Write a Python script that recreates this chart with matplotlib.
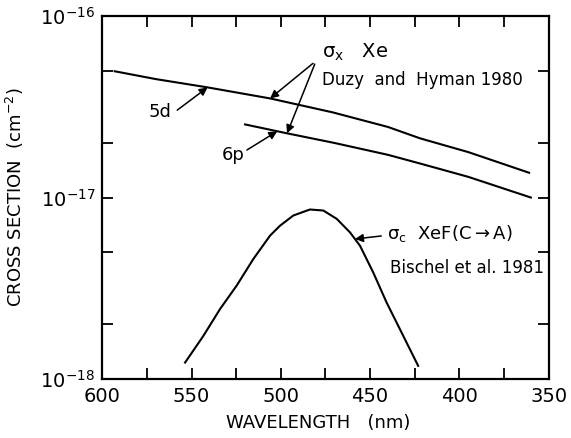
import matplotlib
matplotlib.use("Agg")
import matplotlib.pyplot as plt
import numpy as np
from matplotlib.ticker import FixedLocator, FuncFormatter

# sigma_x Xe 5d (Duzy and Hyman 1980)
wl_5d = [593, 570, 541, 506, 471, 440, 422, 395, 361]
sig_5d = [4.97e-17, 4.5e-17, 4.05e-17, 3.52e-17, 2.95e-17, 2.45e-17, 2.12e-17, 1.78e-17, 1.37e-17]

# sigma_x Xe 6p
wl_6p = [520, 496.5, 470, 440, 422, 395, 360]
sig_6p = [2.53e-17, 2.26e-17, 2.0e-17, 1.72e-17, 1.54e-17, 1.3e-17, 1.0e-17]

# sigma_c XeF(C->A) (Bischel et al. 1981)
wl_c = [553.6, 543.3, 534.0, 524.7, 515.4, 506.0, 500.4, 493.0, 483.7, 476.2, 468.7,
        461.3, 455.7, 448.3, 440.8, 431.5, 423.1]
sig_c = [1.23e-18, 1.73e-18, 2.43e-18, 3.27e-18, 4.58e-18, 6.17e-18, 7.0e-18, 7.96e-18, 8.59e-18,
         8.48e-18, 7.63e-18, 6.43e-18, 5.43e-18, 3.87e-18, 2.64e-18, 1.73e-18, 1.18e-18]

x_major = [600, 550, 500, 450, 400, 350]
x_minor = [575, 525, 475, 425, 375]


def at(wl, sig, w):
    # value of a curve at wavelength w (log interpolation along the curve)
    wl = np.asarray(wl)[::-1]
    ls = np.log10(np.asarray(sig))[::-1]
    return (w, 10 ** np.interp(w, wl, ls))


plt.rcParams['font.family'] = 'DejaVu Sans'
plt.rcParams['mathtext.default'] = 'regular'

fig, ax = plt.subplots(figsize=(5.71, 4.38), dpi=100)
fig.subplots_adjust(left=0.179, right=0.961, top=0.963, bottom=0.135)

ax.plot(wl_5d, sig_5d, color='k', lw=1.5)
ax.plot(wl_6p, sig_6p, color='k', lw=1.5)
ax.plot(wl_c, sig_c, color='k', lw=1.5)

ax.set_yscale('log')
ax.set_xlim(600, 350)
ax.set_ylim(1e-18, 1e-16)

ax.xaxis.set_major_locator(FixedLocator(x_major))
ax.xaxis.set_minor_locator(FixedLocator(x_minor))
ax.yaxis.set_major_locator(FixedLocator([1e-18, 1e-17, 1e-16]))
ax.yaxis.set_minor_locator(FixedLocator([2e-18, 5e-18, 2e-17, 5e-17]))
ax.yaxis.set_major_formatter(FuncFormatter(lambda v, p: '$10^{%d}$' % round(np.log10(v))))
ax.yaxis.set_minor_formatter(FuncFormatter(lambda v, p: ''))

ax.tick_params(which='both', direction='in', top=True, right=True, length=8, width=1.3, labelsize=14)
ax.tick_params(axis='x', which='both', pad=6)
ax.tick_params(axis='y', which='both', pad=5)
for s in ax.spines.values():
    s.set_linewidth(1.6)

ax.set_xlabel('WAVELENGTH   (nm)', fontsize=13)
ax.xaxis.set_label_coords(0.483, -0.096)
ax.set_ylabel('CROSS SECTION  (cm$^{-2}$)', fontsize=13)
ax.yaxis.set_label_coords(-0.17, 0.5)

arr = dict(arrowstyle='-|>', color='k', lw=1.1, mutation_scale=12, shrinkA=0, shrinkB=0)

ax.text(0.130, 0.735, '5d', transform=ax.transAxes, fontsize=13, ha='center', va='center')
ax.annotate('', xy=at(wl_5d, sig_5d, 541), xytext=(0.168, 0.741), textcoords='axes fraction', arrowprops=arr)

ax.text(0.293, 0.617, '6p', transform=ax.transAxes, fontsize=13, ha='center', va='center')
ax.annotate('', xy=at(wl_6p, sig_6p, 502), xytext=(0.324, 0.631), textcoords='axes fraction', arrowprops=arr)

ax.text(0.492, 0.901, r'$\sigma_x$   Xe', transform=ax.transAxes, fontsize=14, ha='left', va='center')
ax.text(0.492, 0.824, 'Duzy  and  Hyman 1980', transform=ax.transAxes, fontsize=12, ha='left', va='center')
ax.annotate('', xy=at(wl_5d, sig_5d, 506), xytext=(0.472, 0.870), textcoords='axes fraction', arrowprops=arr)
ax.annotate('', xy=at(wl_6p, sig_6p, 496.5), xytext=(0.476, 0.868), textcoords='axes fraction', arrowprops=arr)

ax.text(0.638, 0.402, r'$\sigma_c$  XeF(C$\rightarrow$A)', transform=ax.transAxes, fontsize=13, ha='left', va='center')
ax.text(0.644, 0.306, 'Bischel et al. 1981', transform=ax.transAxes, fontsize=12, ha='left', va='center')
ax.annotate('', xy=at(wl_c, sig_c, 458.5), xytext=(0.625, 0.394), textcoords='axes fraction', arrowprops=arr)

fig.savefig('out.png', dpi=100)
